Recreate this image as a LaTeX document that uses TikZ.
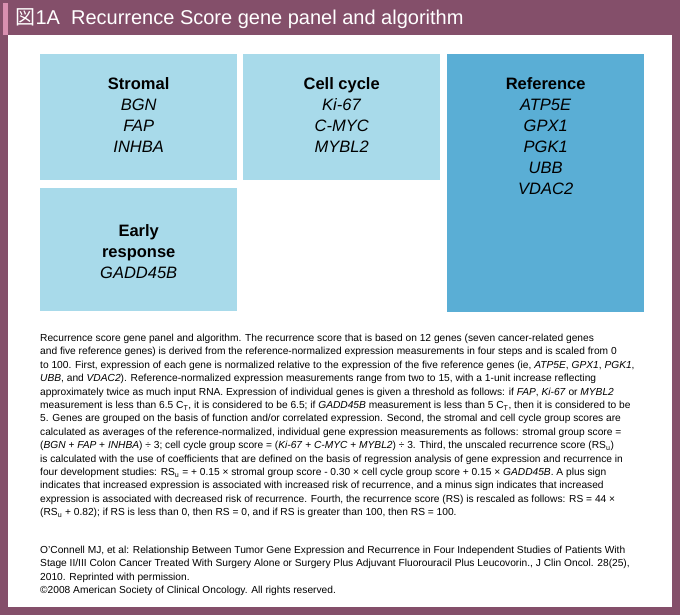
\documentclass[tikz,border=0pt]{standalone}
\usepackage{fontspec}
\setmainfont{Liberation Sans}
\newfontfamily\cjk{Noto Sans CJK JP}
\definecolor{frame}{HTML}{844F6A}
\definecolor{lightb}{HTML}{A8DAEA}
\definecolor{darkb}{HTML}{5AAED5}
\definecolor{stripe}{HTML}{D98FB0}
\begin{document}
\begin{tikzpicture}[x=1pt,y=-1pt,
  genebox/.style={anchor=north west,inner sep=0pt,minimum width=197pt,align=center,font=\fontsize{16.5}{21}\selectfont},
  body/.style={anchor=north west,inner sep=0pt,align=left,font=\fontsize{10.2}{13.4}\selectfont}]
\useasboundingbox (0,0) rectangle (680,615);
\fill[frame] (0,0) rectangle (680,615);
\fill[white] (8,35) rectangle (672,607);
\fill[stripe] (3,3) rectangle (8,35);
\node[anchor=west,text=white,font=\fontsize{20}{22}\selectfont] (title) at (12,19) {{\cjk 図}1A\ \ Recurrence Score gene panel and algorithm};
\fill[lightb] (40,54) rectangle (237,180);
\fill[lightb] (243,54) rectangle (440,180);
\fill[darkb] (447,54) rectangle (644,312);
\fill[lightb] (40,188) rectangle (237,311);
\node[genebox] (stromal) at (40,77) {\textbf{Stromal}\\\textit{BGN}\\\textit{FAP}\\\textit{INHBA}};
\node[genebox] (cell) at (243,77) {\textbf{Cell cycle}\\\textit{Ki-67}\\\textit{C-MYC}\\\textit{MYBL2}};
\node[genebox] (ref) at (447,77) {\textbf{Reference}\\\textit{ATP5E}\\\textit{GPX1}\\\textit{PGK1}\\\textit{UBB}\\\textit{VDAC2}};
\node[genebox] (early) at (40,224) {\textbf{Early}\\\textbf{response}\\\textit{GADD45B}};
\node[body] (para) at (40,334) {Recurrence score gene panel and algorithm. The recurrence score that is based on 12 genes (seven cancer-related genes\\
and five reference genes) is derived from the reference-normalized expression measurements in four steps and is scaled from 0\\
to 100. First, expression of each gene is normalized relative to the expression of the five reference genes (ie, \textit{ATP5E}, \textit{GPX1}, \textit{PGK1},\\
\textit{UBB}, and \textit{VDAC2}). Reference-normalized expression measurements range from two to 15, with a 1-unit increase reflecting\\
approximately twice as much input RNA. Expression of individual genes is given a threshold as follows: if \textit{FAP}, \textit{Ki-67} or \textit{MYBL2}\\
measurement is less than 6.5 C\textsubscript{T}, it is considered to be 6.5; if \textit{GADD45B} measurement is less than 5 C\textsubscript{T}, then it is considered to be\\
5. Genes are grouped on the basis of function and/or correlated expression. Second, the stromal and cell cycle group scores are\\
calculated as averages of the reference-normalized, individual gene expression measurements as follows: stromal group score =\\
(\textit{BGN} + \textit{FAP} + \textit{INHBA}) ÷ 3; cell cycle group score = (\textit{Ki-67} + \textit{C-MYC} + \textit{MYBL2}) ÷ 3. Third, the unscaled recurrence score (RS\textsubscript{u})\\
is calculated with the use of coefficients that are defined on the basis of regression analysis of gene expression and recurrence in\\
four development studies: RS\textsubscript{u} = + 0.15 × stromal group score - 0.30 × cell cycle group score + 0.15 × \textit{GADD45B}. A plus sign\\
indicates that increased expression is associated with increased risk of recurrence, and a minus sign indicates that increased\\
expression is associated with decreased risk of recurrence. Fourth, the recurrence score (RS) is rescaled as follows: RS = 44 ×\\
(RS\textsubscript{u} + 0.82); if RS is less than 0, then RS = 0, and if RS is greater than 100, then RS = 100.};
\node[body] (cite) at (40,546) {O'Connell MJ, et al: Relationship Between Tumor Gene Expression and Recurrence in Four Independent Studies of Patients With\\
Stage II/III Colon Cancer Treated With Surgery Alone or Surgery Plus Adjuvant Fluorouracil Plus Leucovorin., J Clin Oncol. 28(25),\\
2010. Reprinted with permission.\\
©2008 American Society of Clinical Oncology. All rights reserved.};
\end{tikzpicture}
\end{document}
